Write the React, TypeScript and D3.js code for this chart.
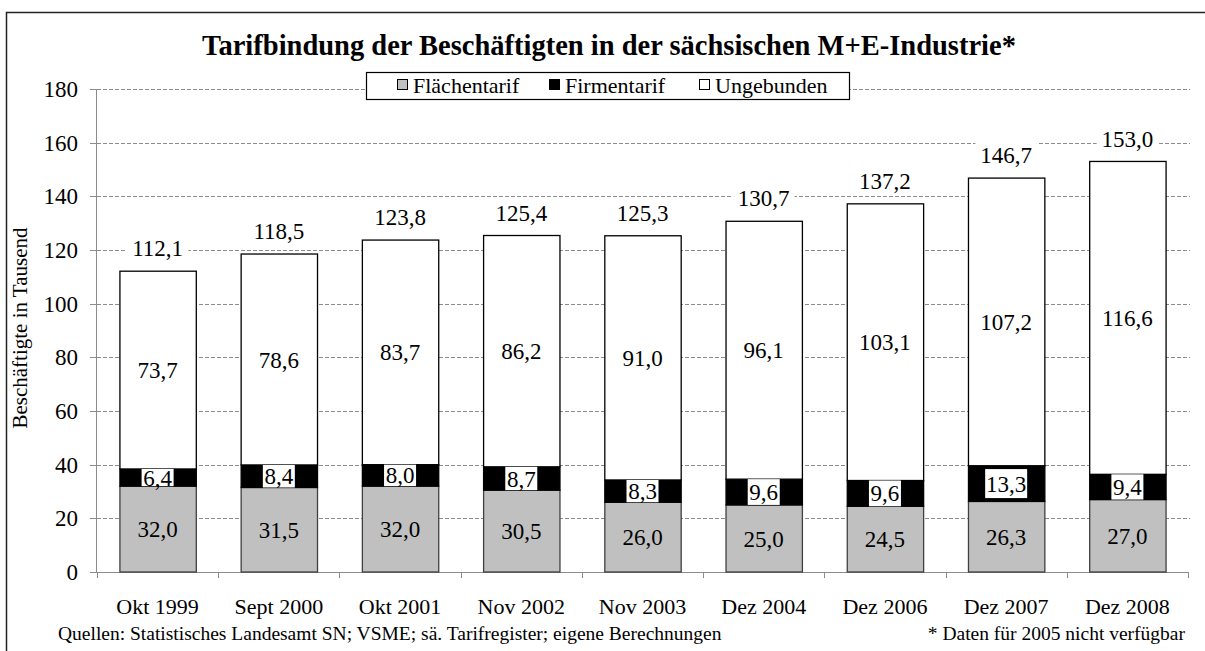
import React from "react";
import * as d3 from "d3";

const categories = ["Okt 1999", "Sept 2000", "Okt 2001", "Nov 2002", "Nov 2003", "Dez 2004", "Dez 2006", "Dez 2007", "Dez 2008"];
const flaechentarif = [32.0, 31.5, 32.0, 30.5, 26.0, 25.0, 24.5, 26.3, 27.0];
const firmentarif = [6.4, 8.4, 8.0, 8.7, 8.3, 9.6, 9.6, 13.3, 9.4];
const ungebunden = [73.7, 78.6, 83.7, 86.2, 91.0, 96.1, 103.1, 107.2, 116.6];
const totals = [112.1, 118.5, 123.8, 125.4, 125.3, 130.7, 137.2, 146.7, 153.0];
const yTicks = [0, 20, 40, 60, 80, 100, 120, 140, 160, 180];
const seriesNames = ["Flächentarif", "Firmentarif", "Ungebunden"];

const W = 1205;
const H = 651;
const FONT = "Liberation Serif, Times New Roman, serif";
const fmt = (v: number) => v.toFixed(1).replace(".", ",");

export default function App() {
  const x = d3.scaleBand<string>().domain(categories).range([97, 1188]).paddingInner(0.37).paddingOuter(0.185);
  const y = d3.scaleLinear().domain([0, 180]).range([572, 89]);
  const bw = x.bandwidth();
  const step = x.step();

  const rows = categories.map((c, i) => ({
    cat: c,
    Flächentarif: flaechentarif[i],
    Firmentarif: firmentarif[i],
    Ungebunden: ungebunden[i],
  }));
  const stack = d3.stack<any>().keys(seriesNames)(rows);
  const fills: Record<string, string> = { Flächentarif: "#c0c0c0", Firmentarif: "#000000", Ungebunden: "#ffffff" };
  const strokes: Record<string, string> = { Flächentarif: "#404040", Firmentarif: "#000000", Ungebunden: "#000000" };
  const legendX = [397, 549, 699];

  return (
    <svg width={W} height={H} style={{ position: "absolute", left: 0, top: 0, background: "#fff" }} fontFamily={FONT}>
      <rect x={0} y={0} width={W} height={H} fill="#fff" />
      <path d={`M6.5,${H} L6.5,12.5 L${W},12.5`} fill="none" stroke="#222" strokeWidth={1.5} />
      <text x={609} y={55} textAnchor="middle" fontSize={28.5} fontWeight="bold">
        Tarifbindung der Beschäftigten in der sächsischen M+E-Industrie*
      </text>
      {yTicks.filter((t) => t > 0).map((t) => (
        <line key={t} x1={97} x2={1190} y1={Math.round(y(t)) + 0.5} y2={Math.round(y(t)) + 0.5} stroke="#8c8c8c" strokeDasharray="4,2" strokeWidth={1} />
      ))}
      <line x1={96.5} x2={96.5} y1={y(180)} y2={y(0)} stroke="#8c8c8c" strokeWidth={1} />
      {yTicks.map((t) => (
        <g key={t}>
          <line x1={90} x2={97} y1={Math.round(y(t)) + 0.5} y2={Math.round(y(t)) + 0.5} stroke="#8c8c8c" />
          <text x={78} y={y(t)} dy="0.35em" textAnchor="end" fontSize={23}>{t}</text>
        </g>
      ))}
      <text transform={`translate(27,${328}) rotate(-90)`} textAnchor="middle" fontSize={21}>Beschäftigte in Tausend</text>
      <line x1={96} x2={1188} y1={572.5} y2={572.5} stroke="#8c8c8c" />
      {d3.range(categories.length + 1).map((i) => {
        const xx = Math.round(97 + i * step) + 0.5;
        return <line key={i} x1={xx} x2={xx} y1={572} y2={578} stroke="#8c8c8c" />;
      })}
      {categories.map((c) => (
        <text key={c} x={(x(c) as number) + bw / 2} y={614} textAnchor="middle" fontSize={22}>{c}</text>
      ))}
      {stack.map((s) => (
        <g key={s.key}>
          {s.map((d: any, i: number) => (
            <rect key={i} x={(x(categories[i]) as number) + 0.5} y={y(d[1])} width={bw} height={y(d[0]) - y(d[1])}
              fill={fills[s.key]} stroke={strokes[s.key]} strokeWidth={1.3} />
          ))}
        </g>
      ))}
      {stack.map((s) => (
        <g key={"l" + s.key}>
          {s.map((d: any, i: number) => {
            const cx = (x(categories[i]) as number) + bw / 2;
            const cy = y((d[0] + d[1]) / 2);
            const txt = fmt(d.data[s.key]);
            const tw = txt.length * 10 + 2;
            const segH = y(d[0]) - y(d[1]);
            const bh = Math.min(segH, 29);
            return (
              <g key={i}>
                {s.key === "Firmentarif" && (
                  <rect x={cx - tw / 2} y={cy - bh / 2} width={tw} height={bh} fill="#fff" />
                )}
                <text x={cx} y={cy} dy="0.35em" textAnchor="middle" fontSize={23}>{txt}</text>
              </g>
            );
          })}
        </g>
      ))}
      {totals.map((t, i) => {
        const cx = (x(categories[i]) as number) + bw / 2;
        const cy = y(t) - 23;
        const txt = fmt(t);
        const tw = txt.length * 11.5 + 4;
        return (
          <g key={"t" + i}>
            <rect x={cx - tw / 2} y={cy - 13} width={tw} height={26} fill="#fff" />
            <text x={cx} y={cy} dy="0.35em" textAnchor="middle" fontSize={23}>{txt}</text>
          </g>
        );
      })}
      <rect x={366.5} y={72.5} width={483} height={27} fill="#fff" stroke="#000" strokeWidth={1.2} />
      {seriesNames.map((n, i) => {
        const lx = legendX[i];
        return (
          <g key={n}>
            <rect x={lx + 0.5} y={79.5} width={10} height={10} fill={fills[n]} stroke="#000" strokeWidth={1} />
            <text x={lx + 16} y={93} fontSize={22}>{n}</text>
          </g>
        );
      })}
      <text x={58} y={640} fontSize={19.5}>Quellen: Statistisches Landesamt SN; VSME; sä. Tarifregister; eigene Berechnungen</text>
      <text x={1185} y={640} textAnchor="end" fontSize={19.5}>* Daten für 2005 nicht verfügbar</text>
    </svg>
  );
}
